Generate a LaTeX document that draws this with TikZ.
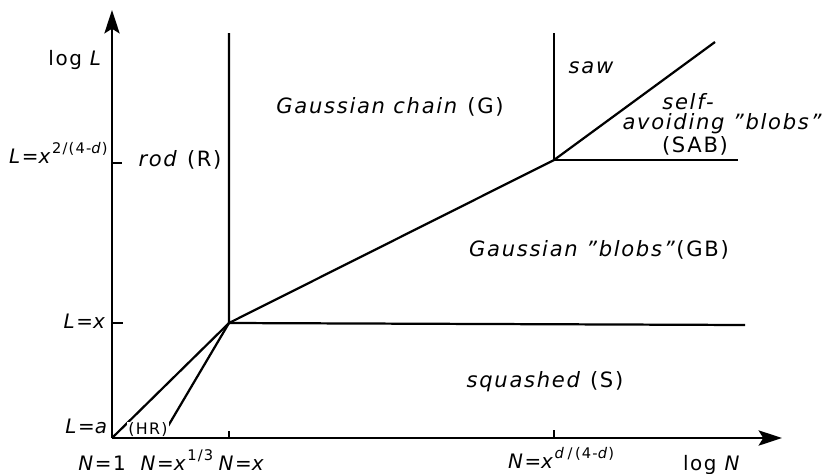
\documentclass[tikz,border=0pt]{standalone}
\usepackage{fontspec}
\setmainfont{DejaVu Sans}[LetterSpace=8]
\usetikzlibrary{arrows.meta}
\newcommand{\expo}[1]{\raisebox{0.5em}{\fontsize{12.5}{14}\selectfont #1}}
\begin{document}
\begin{tikzpicture}[x=0.03cm, y=-0.03cm,
  ax/.style={-{Stealth[length=20pt, width=13pt, inset=4pt]}, line width=1.9pt},
  bd/.style={line width=1.9pt},
  tk/.style={line width=1.5pt},
  lab/.style={font=\fontsize{17}{20}\selectfont, inner sep=1pt},
  rl/.style={font=\fontsize{18}{21}\selectfont\itshape, inner sep=1pt},
]
\useasboundingbox (0,0) rectangle (823,473);

% Corner points of the regions
\coordinate (O) at (112,438);
\coordinate (Ytop) at (112,10);
\coordinate (Xend) at (782,438);
\coordinate (A) at (229,323);
\coordinate (B) at (554,160);
\coordinate (C) at (715,42);
\coordinate (Rtop) at (229,33);
\coordinate (Stop) at (554,33);
\coordinate (Send) at (745,325);
\coordinate (SABend) at (738,160);
\coordinate (H) at (161,438);

% Region boundaries
\draw[bd] (Rtop) -- (A) -- (B) -- (C);
\draw[bd] (A) -- (Send);
\draw[bd] (Stop) -- (B) -- (SABend);
\draw[bd] (O) -- (A);
\draw[bd] (H) -- (A);
\node[lab, font=\fontsize{13.5}{16}\selectfont, fill=white] (HR) at (148,430) {(HR)};

% Axes and ticks
\draw[ax] (O) -- (Ytop);
\draw[ax] (O) -- (Xend);
\draw[tk] (O |- A) -- ++(11,0);
\draw[tk] (112,163) -- ++(10,0);
\draw[tk] (A |- O) -- ++(0,-7);
\draw[tk] (B |- O) -- ++(0,-8);

% Axis labels
\node[lab, anchor=east] (logL) at (104,60) {log \textit{L}};
\node[lab, anchor=base east] (Lmax) at (109,163) {\textit{L}=\textit{x}\expo{2/(4-\textit{d})}};
\node[lab, anchor=base east] (Lx) at (108,328) {\textit{L}=\textit{x}};
\node[lab, anchor=base east] (La) at (110,433) {\textit{L}=\textit{a}};
\node[lab, anchor=base] (N1) at (102,470) {\textit{N}=1};
\node[lab, anchor=base] (N13) at (177,470) {\textit{N}=\textit{x}\expo{1/3}};
\node[lab, anchor=base] (Nx) at (242,470) {\textit{N}=\textit{x}};
\node[lab, anchor=base] (Nd) at (561,468) {\textit{N}=\textit{x}\expo{\textit{d}\,/\,(4-\textit{d})}};
\node[lab, anchor=base] (logN) at (712,470) {log \textit{N}};

% Regions
\node[rl] (rod) at (180,160) {rod \textup{(R)}};
\node[rl] (gc) at (390,107) {Gaussian chain \textup{(G)}};
\node[rl] (saw) at (591,68) {saw};
\node[rl, anchor=base] (sab1) at (688,109) {self-};
\node[rl, anchor=base] (sab2) at (722,129) {avoiding "blobs"};
\node[lab, font=\fontsize{18}{21}\selectfont, anchor=base] (sab3) at (695,152) {(SAB)};
\node[rl] (gb) at (599,250) {Gaussian "blobs"\textup{(GB)}};
\node[rl] (sq) at (545,382) {squashed \textup{(S)}};

\end{tikzpicture}
\end{document}
